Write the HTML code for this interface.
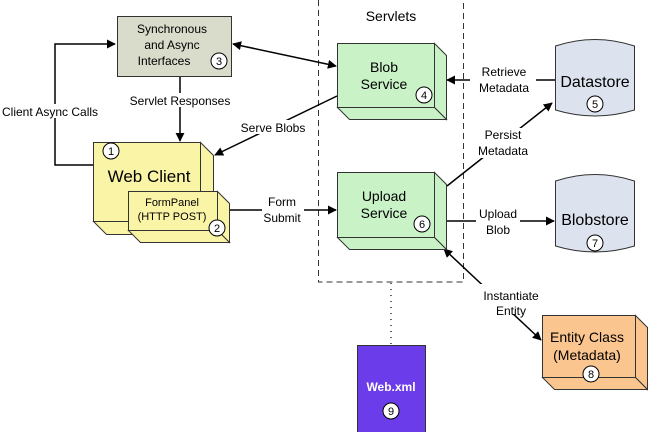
<!DOCTYPE html>
<html><head><style>
body{margin:0;background:#fff}
svg{display:block;font-family:"Liberation Sans",Arial,sans-serif}
</style></head><body>
<svg width="648" height="432" viewBox="0 0 648 432" xmlns="http://www.w3.org/2000/svg">
<defs>
<marker id="a" viewBox="0 0 10 10" refX="9" refY="5" markerWidth="9" markerHeight="9" markerUnits="userSpaceOnUse" orient="auto-start-reverse"><path d="M0,0 L10,5 L0,10 z" fill="#000"/></marker>
</defs>
<!-- servlets dashed -->
<rect x="318.5" y="-2" width="145" height="284" fill="none" stroke="#333" stroke-dasharray="6,4"/>
<text x="391" y="21" font-size="14" text-anchor="middle">Servlets</text>
<line x1="391" y1="283" x2="391" y2="344" stroke="#333" stroke-dasharray="1,5" stroke-width="1.5"/>

<!-- Sync box -->
<rect x="117.5" y="16.5" width="114" height="60" fill="#d9dccb" stroke="#333"/>
<text font-size="12" text-anchor="middle"><tspan x="172" y="33">Synchronous</tspan><tspan x="172" y="49">and Async</tspan><tspan x="164" y="65">Interfaces</tspan></text>
<circle cx="219" cy="61" r="8" fill="#fff" stroke="#000"/><text x="219" y="65" font-size="11" text-anchor="middle">3</text>

<!-- connectors -->
<polyline points="93,165 55,165 55,44 115,44" fill="none" stroke="#000" stroke-width="1.5" marker-end="url(#a)"/>
<rect x="0" y="104" width="108" height="14" fill="#fff"/>
<text x="2" y="116" font-size="12">Client Async Calls</text>
<line x1="180" y1="77" x2="180" y2="141" stroke="#000" stroke-width="1.5" marker-end="url(#a)"/>
<rect x="122" y="93" width="116" height="14" fill="#fff"/>
<text x="180" y="105" font-size="12" text-anchor="middle">Servlet Responses</text>
<line x1="233" y1="44" x2="336" y2="66" stroke="#000" stroke-width="1.5" marker-start="url(#a)" marker-end="url(#a)"/>
<line x1="337" y1="96" x2="215" y2="155" stroke="#000" stroke-width="1.5" marker-end="url(#a)"/>
<rect x="236" y="120" width="74" height="14" fill="#fff"/>
<text x="273" y="132" font-size="12" text-anchor="middle">Serve Blobs</text>
<line x1="230" y1="210" x2="336" y2="210" stroke="#000" stroke-width="1.5" marker-end="url(#a)"/>
<rect x="262" y="195" width="42" height="30" fill="#fff"/>
<text font-size="12" text-anchor="middle"><tspan x="282" y="206">Form</tspan><tspan x="282" y="222">Submit</tspan></text>
<line x1="555" y1="80" x2="447" y2="80" stroke="#000" stroke-width="1.5" marker-end="url(#a)"/>
<rect x="470" y="64" width="66" height="30" fill="#fff"/>
<text font-size="12" text-anchor="middle"><tspan x="504" y="76">Retrieve</tspan><tspan x="504" y="92">Metadata</tspan></text>
<line x1="447" y1="186" x2="552" y2="103" stroke="#000" stroke-width="1.5" marker-end="url(#a)"/>
<rect x="470" y="128" width="66" height="30" fill="#fff"/>
<text font-size="12" text-anchor="middle"><tspan x="503" y="139">Persist</tspan><tspan x="503" y="155">Metadata</tspan></text>
<line x1="447" y1="221" x2="554" y2="221" stroke="#000" stroke-width="1.5" marker-end="url(#a)"/>
<rect x="476" y="206" width="44" height="30" fill="#fff"/>
<text font-size="12" text-anchor="middle"><tspan x="498" y="218">Upload</tspan><tspan x="498" y="234">Blob</tspan></text>
<line x1="444" y1="249" x2="541" y2="340" stroke="#000" stroke-width="1.5" marker-start="url(#a)" marker-end="url(#a)"/>
<rect x="468" y="284" width="86" height="30" fill="#fff"/>
<text font-size="12" text-anchor="middle"><tspan x="511" y="300">Instantiate</tspan><tspan x="511" y="315">Entity</tspan></text>

<!-- Blob service -->
<g stroke="#333" fill="#c9f2c7">
<polygon points="434.5,43.5 446.5,55.5 446.5,119.5 434.5,107.5"/>
<polygon points="337.5,107.5 434.5,107.5 446.5,119.5 349.5,119.5"/>
<rect x="337.5" y="43.5" width="97" height="64"/>
</g>
<text font-size="14" text-anchor="middle"><tspan x="384" y="72">Blob</tspan><tspan x="384" y="89">Service</tspan></text>
<circle cx="424" cy="95" r="8" fill="#fff" stroke="#000"/><text x="424" y="99" font-size="11" text-anchor="middle">4</text>

<!-- Upload service -->
<g stroke="#333" fill="#c9f2c7">
<polygon points="434.5,172.5 446.5,184.5 446.5,249.5 434.5,237.5"/>
<polygon points="337.5,237.5 434.5,237.5 446.5,249.5 349.5,249.5"/>
<rect x="337.5" y="172.5" width="97" height="65"/>
</g>
<text font-size="14" text-anchor="middle"><tspan x="384" y="201">Upload</tspan><tspan x="384" y="218">Service</tspan></text>
<circle cx="422" cy="224" r="8" fill="#fff" stroke="#000"/><text x="422" y="228" font-size="11" text-anchor="middle">6</text>

<!-- Web client -->
<g stroke="#333" fill="#faf5a6">
<polygon points="200.5,142.5 213.5,155.5 213.5,234.5 200.5,221.5"/>
<polygon points="93.5,221.5 200.5,221.5 213.5,234.5 106.5,234.5"/>
<rect x="93.5" y="142.5" width="107" height="79"/>
</g>
<circle cx="111" cy="151" r="8" fill="#fff" stroke="#000"/><text x="111" y="155" font-size="11" text-anchor="middle">1</text>
<text x="149" y="182" font-size="17" text-anchor="middle">Web Client</text>
<g stroke="#333" fill="#faf5a6">
<polygon points="217.5,191.5 229.5,203.5 229.5,242.5 217.5,230.5"/>
<polygon points="128.5,230.5 217.5,230.5 229.5,242.5 140.5,242.5"/>
<rect x="128.5" y="191.5" width="89" height="39"/>
</g>
<text font-size="11" text-anchor="middle"><tspan x="172" y="206">FormPanel</tspan><tspan x="172" y="220">(HTTP POST)</tspan></text>
<circle cx="217" cy="228" r="8" fill="#fff" stroke="#000"/><text x="217" y="232" font-size="11" text-anchor="middle">2</text>

<!-- Datastore -->
<path d="M555.5,46 Q595,33 634.5,46 L634.5,110 Q595,122 555.5,110 Z" fill="#dde3ee" stroke="#333"/>
<text x="595" y="87" font-size="16" text-anchor="middle">Datastore</text>
<circle cx="595" cy="104" r="8" fill="#fff" stroke="#000"/><text x="595" y="108" font-size="11" text-anchor="middle">5</text>
<!-- Blobstore -->
<path d="M555.5,181 Q595,168 634.5,181 L634.5,246 Q595,258 555.5,246 Z" fill="#dde3ee" stroke="#333"/>
<text x="595" y="225" font-size="16" text-anchor="middle">Blobstore</text>
<circle cx="595" cy="243" r="8" fill="#fff" stroke="#000"/><text x="595" y="247" font-size="11" text-anchor="middle">7</text>

<!-- Entity -->
<g stroke="#333" fill="#fbc58f">
<polygon points="635.5,315.5 647.5,327.5 647.5,389.5 635.5,377.5"/>
<polygon points="542.5,377.5 635.5,377.5 647.5,389.5 554.5,389.5"/>
<rect x="542.5" y="315.5" width="93" height="62"/>
</g>
<text font-size="14" text-anchor="middle"><tspan x="587" y="342">Entity Class</tspan><tspan x="587" y="360">(Metadata)</tspan></text>
<circle cx="591" cy="374" r="8" fill="#fff" stroke="#000"/><text x="591" y="378" font-size="11" text-anchor="middle">8</text>

<!-- Web.xml -->
<rect x="357.5" y="345.5" width="68" height="90" fill="#6b3ce9" stroke="#333"/>
<text x="391" y="391" font-size="12" font-weight="bold" fill="#fff" text-anchor="middle">Web.xml</text>
<circle cx="391" cy="411" r="8" fill="#fff" stroke="#000"/><text x="391" y="415" font-size="11" text-anchor="middle">9</text>
</svg>
</body></html>
